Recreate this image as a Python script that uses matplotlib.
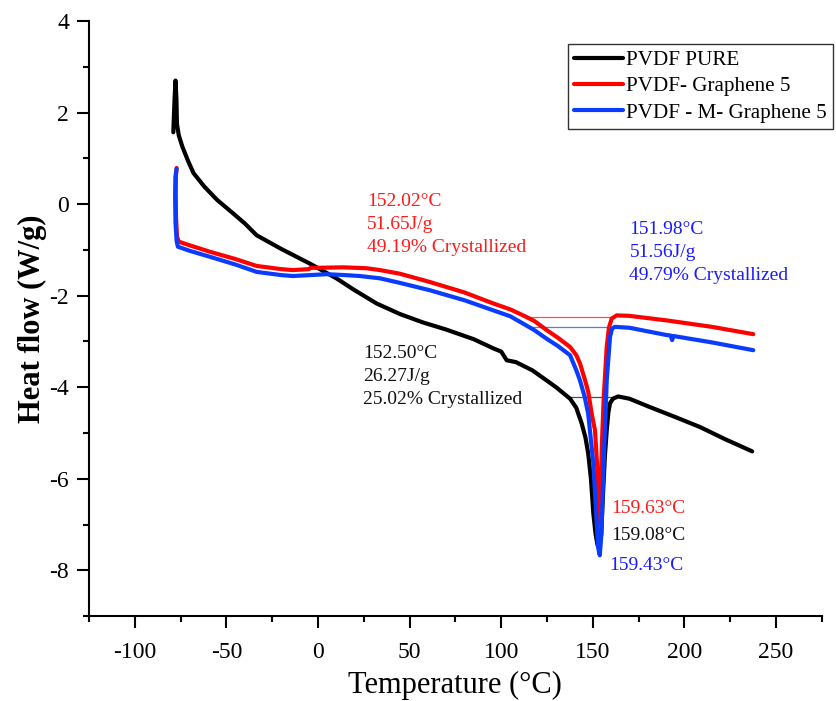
import matplotlib
matplotlib.use('Agg')
import matplotlib.pyplot as plt
from matplotlib.ticker import MultipleLocator

plt.rcParams['font.family'] = ['Liberation Serif', 'DejaVu Serif']
plt.rcParams['axes.unicode_minus'] = False

# DSC curves
pure_t = [-79, -78.3, -77.8, -77.3, -77, -76, -74, -71, -68, -62, -55, -47, -40, -36,
          -33.5, -20, -4.4, 10, 20, 32, 44.7, 57, 70, 85, 95.7, 100, 103, 108, 117,
          123, 130, 137.6, 141, 144, 146, 147.5, 149, 150.3, 151.5, 152.6, 153.6,
          154.6, 155.6, 156.6, 157.6, 158.5, 159.4, 161, 163.8, 170, 181, 195,
          208.6, 222, 237]
pure_hf = [1.57, 2.3, 2.7, 2.3, 1.75, 1.5, 1.25, 0.95, 0.68, 0.38, 0.09, -0.18, -0.42,
           -0.58, -0.68, -0.98, -1.30, -1.62, -1.88, -2.17, -2.40, -2.58, -2.74, -2.95,
           -3.15, -3.22, -3.41, -3.45, -3.63, -3.8, -4.0, -4.25, -4.45, -4.8, -5.1,
           -5.45, -6.0, -6.76, -7.2, -7.45, -7.5, -7.2, -6.3, -5.5, -4.94, -4.55,
           -4.35, -4.25, -4.2, -4.25, -4.43, -4.65, -4.87, -5.13, -5.4]

gr_t = [-77.2, -77.6, -77.7, -77.5, -77, -76, -70, -59, -45, -33.5, -20, -13.7, -5,
        -4, 0, 13.6, 26.5, 33.8, 44.7, 61, 80, 95.7, 105, 112, 118, 124.8, 131,
        137.6, 141, 143, 145.8, 147.5, 149.5, 151.2, 152.5, 153.6, 154.2, 154.9,
        156, 157.6, 158.8, 160.3, 163, 170, 190.4, 215, 237.6]
gr_hf = [0.79, 0.6, 0.2, -0.3, -0.7, -0.82, -0.9, -1.04, -1.2, -1.35, -1.42, -1.44,
         -1.42, -1.39, -1.39, -1.38, -1.40, -1.44, -1.52, -1.70, -1.93, -2.17, -2.30,
         -2.43, -2.55, -2.75, -2.92, -3.12, -3.3, -3.48, -3.85, -4.1, -4.6, -4.94,
         -5.8, -6.76, -7.0, -5.3, -4.2, -3.12, -2.7, -2.5, -2.43, -2.44, -2.54,
         -2.68, -2.84]

mgr_t = [-77.2, -77.8, -78, -77.8, -77.2, -76.5, -70, -59, -45, -33.5, -20, -13.7, 0,
         4.7, 15, 22.9, 33.8, 44.7, 61, 80, 95.7, 105, 112, 118, 124.8, 131, 137.6,
         141, 143, 145.5, 147.5, 150.3, 152.9, 153.8, 154.7, 155.6, 157.6, 159.4,
         160.5, 162, 170, 190.4, 192.5, 193.3, 194, 215, 237.6]
mgr_hf = [0.77, 0.6, 0.2, -0.4, -0.8, -0.93, -1.02, -1.15, -1.32, -1.48, -1.55, -1.57,
          -1.54, -1.53, -1.55, -1.57, -1.62, -1.72, -1.88, -2.1, -2.32, -2.45, -2.61,
          -2.75, -2.94, -3.1, -3.30, -3.63, -3.85, -4.2, -4.58, -5.67, -7.5, -7.67,
          -7.2, -6.03, -3.85, -2.9, -2.72, -2.68, -2.7, -2.86, -2.87, -2.97, -2.88,
          -3.02, -3.19]

# integration baselines (x start, x end, level)
pure_base = ([137.6, 161], [-4.21, -4.21])
gr_base = ([114, 161], [-2.46, -2.46])
mgr_base = ([115.7, 159.4], [-2.68, -2.68])

labels = ['PVDF PURE', 'PVDF- Graphene 5', 'PVDF - M- Graphene 5']
colors = ['black', '#ff0000', '#0a3cff']
text_colors = ['#111111', '#ff1a1a', '#1a1aff']

enthalpy_text = ['152.50°C\n26.27J/g\n25.02% Crystallized',
                 '152.02°C\n51.65J/g\n49.19% Crystallized',
                 '151.98°C\n51.56J/g\n49.79% Crystallized']
enthalpy_pos = [(24.7, -3.76), (26.7, -0.44), (170, -1.06)]
peak_text = ['159.08°C', '159.63°C', '159.43°C']
peak_pos = [(160.3, -7.24), (160.3, -6.65), (159.0, -7.89)]

fig = plt.figure(figsize=(8.36, 7.01), dpi=100)
ax = fig.add_axes([0.1065, 0.121, 0.8765, 0.849])

curves = [(pure_t, pure_hf, pure_base), (gr_t, gr_hf, gr_base), (mgr_t, mgr_hf, mgr_base)]
for (t, hf, base), lab, c in zip(curves, labels, colors):
    ax.plot(base[0], base[1], color=c, lw=0.9, alpha=0.7)
for (t, hf, base), lab, c in zip(curves, labels, colors):
    ax.plot(t, hf, color=c, lw=3.0, label=lab, solid_capstyle='round',
            solid_joinstyle='round')

for txt, pos, c in zip(enthalpy_text, enthalpy_pos, text_colors):
    ax.text(pos[0], pos[1], txt, color=c, fontsize=14, ha='left', va='center',
            linespacing=1.48)
for txt, pos, c in zip(peak_text, peak_pos, text_colors):
    ax.text(pos[0], pos[1], txt, color=c, fontsize=14, ha='left', va='center')

ax.set_xlim(-125, 275)
ax.set_ylim(-9, 4)
ax.xaxis.set_major_locator(MultipleLocator(50))
ax.xaxis.set_minor_locator(MultipleLocator(25))
ax.yaxis.set_major_locator(MultipleLocator(2))
ax.yaxis.set_minor_locator(MultipleLocator(1))
for s in ['top', 'right']:
    ax.spines[s].set_visible(False)
for s in ['left', 'bottom']:
    ax.spines[s].set_linewidth(1.5)
ax.tick_params(which='major', length=8.5, width=1.5, labelsize=17, direction='out')
ax.tick_params(which='minor', length=4.5, width=1.5, direction='out')
ax.tick_params(axis='x', pad=10)
ax.tick_params(axis='y', pad=6)

ax.set_xlabel('Temperature (°C)', fontsize=22, labelpad=6)
ax.set_ylabel('Heat flow (W/g)', fontsize=22, fontweight='bold', labelpad=1.5)

leg = ax.legend(loc='upper left', bbox_to_anchor=(0.6795, 0.9372),
                bbox_transform=fig.transFigure, fontsize=15.2, frameon=True,
                fancybox=False, borderpad=0.3, handlelength=2.3,
                handletextpad=0.15, labelspacing=0.31, borderaxespad=0)
leg.get_frame().set_edgecolor('black')
leg.get_frame().set_linewidth(1.0)

fig.savefig('out.png', dpi=100)
